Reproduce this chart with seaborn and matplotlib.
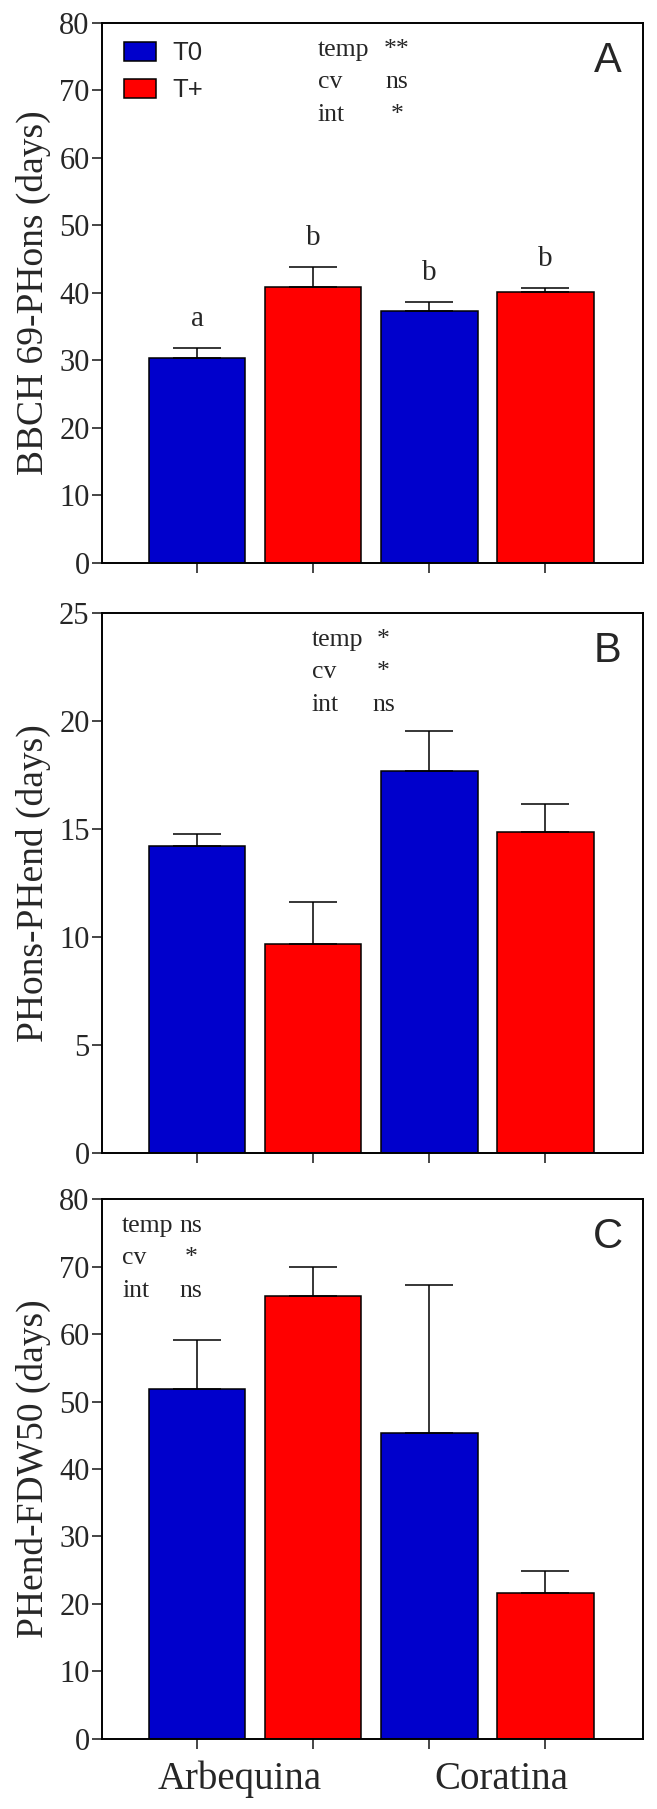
import pandas as pd
import matplotlib.pyplot as plt
import seaborn as sns

cultivars = ['Arbequina', 'Coratina']
treatments = ['T0', 'T+']
colors = {'T0': '#0000CC', 'T+': '#FF0000'}

# values in order: Arbequina T0, Arbequina T+, Coratina T0, Coratina T+
bbch_mean = [30.3, 40.9, 37.4, 40.2]
bbch_err = [1.5, 2.95, 1.2, 0.6]
bbch_letters = ['a', 'b', 'b', 'b']

phons_mean = [14.2, 9.7, 17.7, 14.85]
phons_err = [0.56, 1.93, 1.83, 1.33]

phend_mean = [51.9, 65.7, 45.3, 21.7]
phend_err = [7.2, 4.2, 22.0, 3.2]

stats_a = [('temp', '**'), ('cv', 'ns'), ('int', '*')]
stats_b = [('temp', '*'), ('cv', '*'), ('int', 'ns')]
stats_c = [('temp', 'ns'), ('cv', '*'), ('int', 'ns')]

panels = [
    dict(mean=bbch_mean, err=bbch_err, ylabel='BBCH 69-PHons (days)', ymax=80, step=10,
         letter='A', stats=stats_a, sx=(0.399, 0.545), letters=bbch_letters),
    dict(mean=phons_mean, err=phons_err, ylabel='PHons-PHend (days)', ymax=25, step=5,
         letter='B', stats=stats_b, sx=(0.388, 0.52), letters=None),
    dict(mean=phend_mean, err=phend_err, ylabel='PHend-FDW50 (days)', ymax=80, step=10,
         letter='C', stats=stats_c, sx=(0.037, 0.165), letters=None),
]

sns.set_style('ticks')
plt.rcParams['font.family'] = ['Liberation Serif', 'DejaVu Serif']

fig = plt.figure(figsize=(6.57, 18.09), dpi=100)
bottoms = [0.6888, 0.3626, 0.0387]

for i, p in enumerate(panels):
    ax = fig.add_axes([0.1553, bottoms[i], 0.8234, 0.2985])
    df = pd.DataFrame({
        'cultivar': [c for c in cultivars for _ in treatments],
        'treatment': [t for _ in cultivars for t in treatments],
        'value': p['mean'],
        'err': p['err'],
    })
    sns.barplot(data=df, x='cultivar', y='value', hue='treatment', order=cultivars,
                hue_order=treatments, palette=colors, saturation=1, width=1, gap=0.17,
                edgecolor='black', linewidth=1.1, errorbar=None, ax=ax,
                legend=(i == 0))

    # error bars (upper only), placed on the seaborn bars
    xs, tops, errs, idx = [], [], [], []
    for t, cont in zip(treatments, ax.containers):
        for c, bar in zip(cultivars, cont):
            row = df[(df.cultivar == c) & (df.treatment == t)].iloc[0]
            xs.append(bar.get_x() + bar.get_width() / 2)
            tops.append(row.value)
            errs.append(row.err)
            idx.append(row.name)
    ax.errorbar(xs, tops, yerr=[[0] * len(errs), errs], fmt='none', ecolor='black',
                elinewidth=1.1, capsize=17, capthick=1.1, zorder=3)

    if p['letters'] is not None:
        for x, top, e, k in zip(xs, tops, errs, idx):
            ax.text(x, top + e + 4.3, p['letters'][k], ha='center', va='center', fontsize=21)

    ax.set_xlim(-0.66, 1.67)
    ax.set_ylim(0, p['ymax'])
    ax.set_yticks(range(0, p['ymax'] + 1, p['step']))
    ax.set_xticks(sorted(xs))
    ax.set_xticklabels([])
    ax.set_xlabel('')
    ax.set_ylabel(p['ylabel'], fontsize=27)
    ax.yaxis.set_label_coords(-0.095, 0.5)
    ax.tick_params(axis='both', direction='out', length=7, width=1.2, labelsize=22, pad=2)
    for s in ax.spines.values():
        s.set_visible(True)
        s.set_linewidth(1.4)
        s.set_color('black')

    ax.text(0.935, 0.93, p['letter'], transform=ax.transAxes, ha='center', va='center',
            fontsize=30, family=['Liberation Sans', 'DejaVu Sans'])

    lx, vx = p['sx']
    for j, (lab, val) in enumerate(p['stats']):
        yy = 0.95 - j * 0.06
        ax.text(lx, yy, lab, transform=ax.transAxes, ha='left', va='center', fontsize=18.5)
        ax.text(vx, yy, val, transform=ax.transAxes, ha='center', va='center', fontsize=18.5)

    if i == 0:
        leg = ax.get_legend()
        handles = leg.legend_handles
        labels = [t.get_text() for t in leg.get_texts()]
        for h in handles:
            h.set_edgecolor('black')
            h.set_linewidth(1.1)
        ax.legend(handles, labels, loc='upper left', bbox_to_anchor=(0.04, 0.966),
                  frameon=False, borderaxespad=0, borderpad=0, handlelength=1.25,
                  handleheight=0.75, handletextpad=0.64, labelspacing=0.5,
                  prop={'family': ['Liberation Sans', 'DejaVu Sans'], 'size': 18.5})

    if i == 2:
        ax.text(-0.065, -0.075, 'Arbequina', transform=ax.get_xaxis_transform(),
                ha='center', va='center', fontsize=28)
        ax.text(1.06, -0.075, 'Coratina', transform=ax.get_xaxis_transform(),
                ha='center', va='center', fontsize=28)

fig.savefig('out.png', dpi=100)
